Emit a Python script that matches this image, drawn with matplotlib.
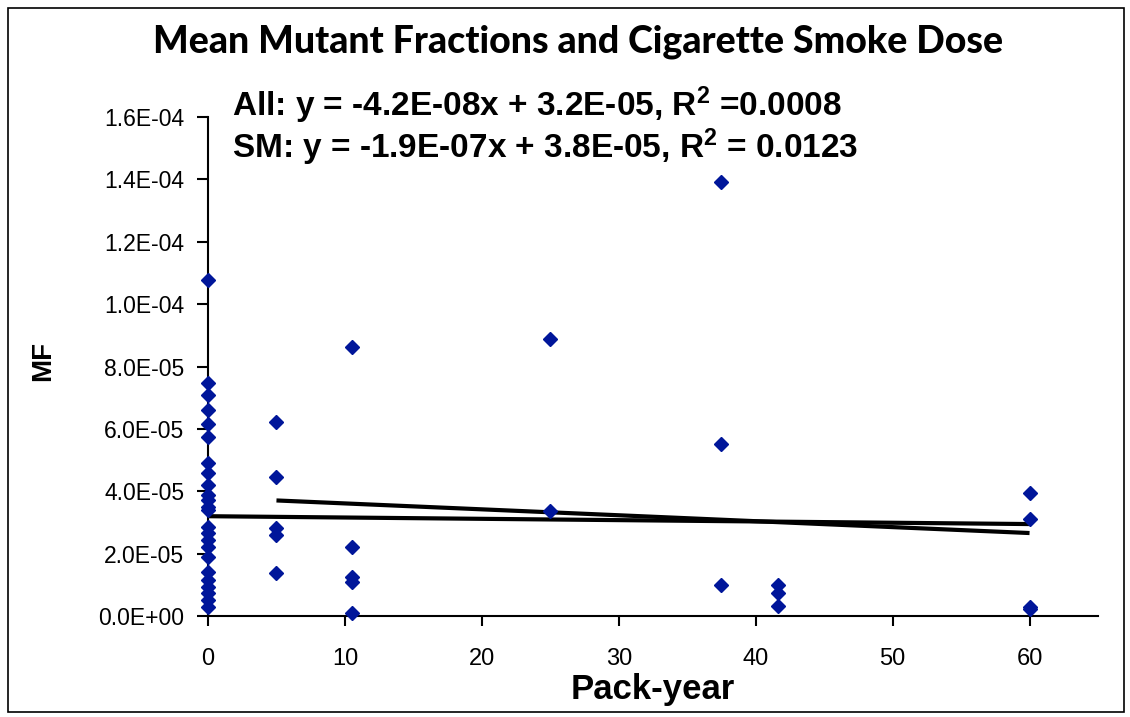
import matplotlib
matplotlib.use("Agg")
import matplotlib.pyplot as plt
from matplotlib.patches import Rectangle
from matplotlib.ticker import FuncFormatter

# Mean mutant fraction per subject vs. pack-years of smoking
pack_years = [0] * 24 + [5] * 5 + [10.5] * 5 + [25] * 2 + [37.5] * 3 + [41.6] * 3 + [60] * 4
mutant_fraction = [
    1.077e-04, 7.46e-05, 7.08e-05, 6.62e-05, 6.15e-05, 5.75e-05, 4.89e-05, 4.57e-05,
    4.20e-05, 3.88e-05, 3.72e-05, 3.50e-05, 3.40e-05, 2.86e-05, 2.65e-05, 2.44e-05,
    2.22e-05, 1.90e-05, 1.42e-05, 1.15e-05, 0.94e-05, 0.73e-05, 0.51e-05, 0.30e-05,
    6.23e-05, 4.47e-05, 2.81e-05, 2.60e-05, 1.37e-05,
    8.62e-05, 2.22e-05, 1.26e-05, 1.10e-05, 0.10e-05,
    8.88e-05, 3.37e-05,
    1.39e-04, 5.53e-05, 0.99e-05,
    0.99e-05, 0.73e-05, 0.33e-05,
    3.95e-05, 3.10e-05, 0.30e-05, 0.22e-05,
]

# Linear fits (slope, intercept, x-range)
fit_all = (-4.2e-08, 3.2e-05, 0, 60)
fit_sm = (-1.9e-07, 3.8e-05, 5, 60)

title = "Mean Mutant Fractions and Cigarette Smoke Dose"
eq_all = r"All: y = -4.2E-08x + 3.2E-05, R$^{2}$ =0.0008"
eq_sm = r"SM: y = -1.9E-07x + 3.8E-05, R$^{2}$ = 0.0123"
x_ticks = [0, 10, 20, 30, 40, 50, 60]
y_ticks = [0, 2e-5, 4e-5, 6e-5, 8e-5, 1e-4, 1.2e-4, 1.4e-4, 1.6e-4]

plt.rcParams["font.family"] = ["Liberation Sans", "DejaVu Sans"]
plt.rcParams["mathtext.fontset"] = "custom"
plt.rcParams["mathtext.rm"] = "Liberation Sans:bold"
plt.rcParams["mathtext.it"] = "Liberation Sans:bold"
plt.rcParams["mathtext.bf"] = "Liberation Sans:bold"

W, H = 1130, 717
fig = plt.figure(figsize=(W / 100, H / 100), dpi=100)
fig.patch.set_facecolor("white")
fig.patches.append(Rectangle((8 / W, 5 / H), 1116 / W, 704 / H, transform=fig.transFigure,
                             fill=False, edgecolor="black", linewidth=1.2))

ax = fig.add_axes([208 / W, 101 / H, 890 / W, 499 / H])
ax.set_xlim(0, 65)
ax.set_ylim(0, 1.6e-4)
for s in ("top", "right"):
    ax.spines[s].set_visible(False)
for s in ("left", "bottom"):
    ax.spines[s].set_linewidth(1.5)
ax.set_xticks(x_ticks)
ax.set_yticks(y_ticks)
ax.yaxis.set_major_formatter(FuncFormatter(
    lambda v, p: "0.0E+00" if v == 0 else f"{v:.1E}"))
ax.tick_params(axis="y", direction="out", length=8, width=1.5, labelsize=16.5, pad=9)
ax.tick_params(axis="x", direction="out", length=7, width=1.5, labelsize=17, pad=16)

for slope, icpt, x0, x1 in (fit_all, fit_sm):
    ax.plot([x0, x1], [icpt + slope * x0, icpt + slope * x1], color="black", lw=3, zorder=2,
            solid_capstyle="butt")

ax.plot(pack_years, mutant_fraction, linestyle="none", marker="D", markersize=7.5,
        color="#00169A", markeredgecolor="#00169A", zorder=3, clip_on=False)

ax.set_xlabel("Pack-year", fontsize=25, fontweight="bold")
ax.xaxis.set_label_coords(0.5, -(690 - 616) / 499, transform=ax.transAxes)
ax.xaxis.label.set_va("center")
ax.set_ylabel("MF", fontsize=20, fontweight="bold")
ax.yaxis.set_label_coords(-(208 - 43) / 890, (616 - 361) / 499, transform=ax.transAxes)
ax.yaxis.label.set_va("center")

fig.text(578 / W, 1 - 42 / H, title, ha="center", va="center", fontsize=27, fontweight=900,
         family=["Lato", "DejaVu Sans"])
fig.text(232 / W, 1 - 105 / H, eq_all, ha="left", va="center", fontsize=24, fontweight="bold")
fig.text(232 / W, 1 - 147 / H, eq_sm, ha="left", va="center", fontsize=24, fontweight="bold")

fig.savefig("out.png", dpi=100)
